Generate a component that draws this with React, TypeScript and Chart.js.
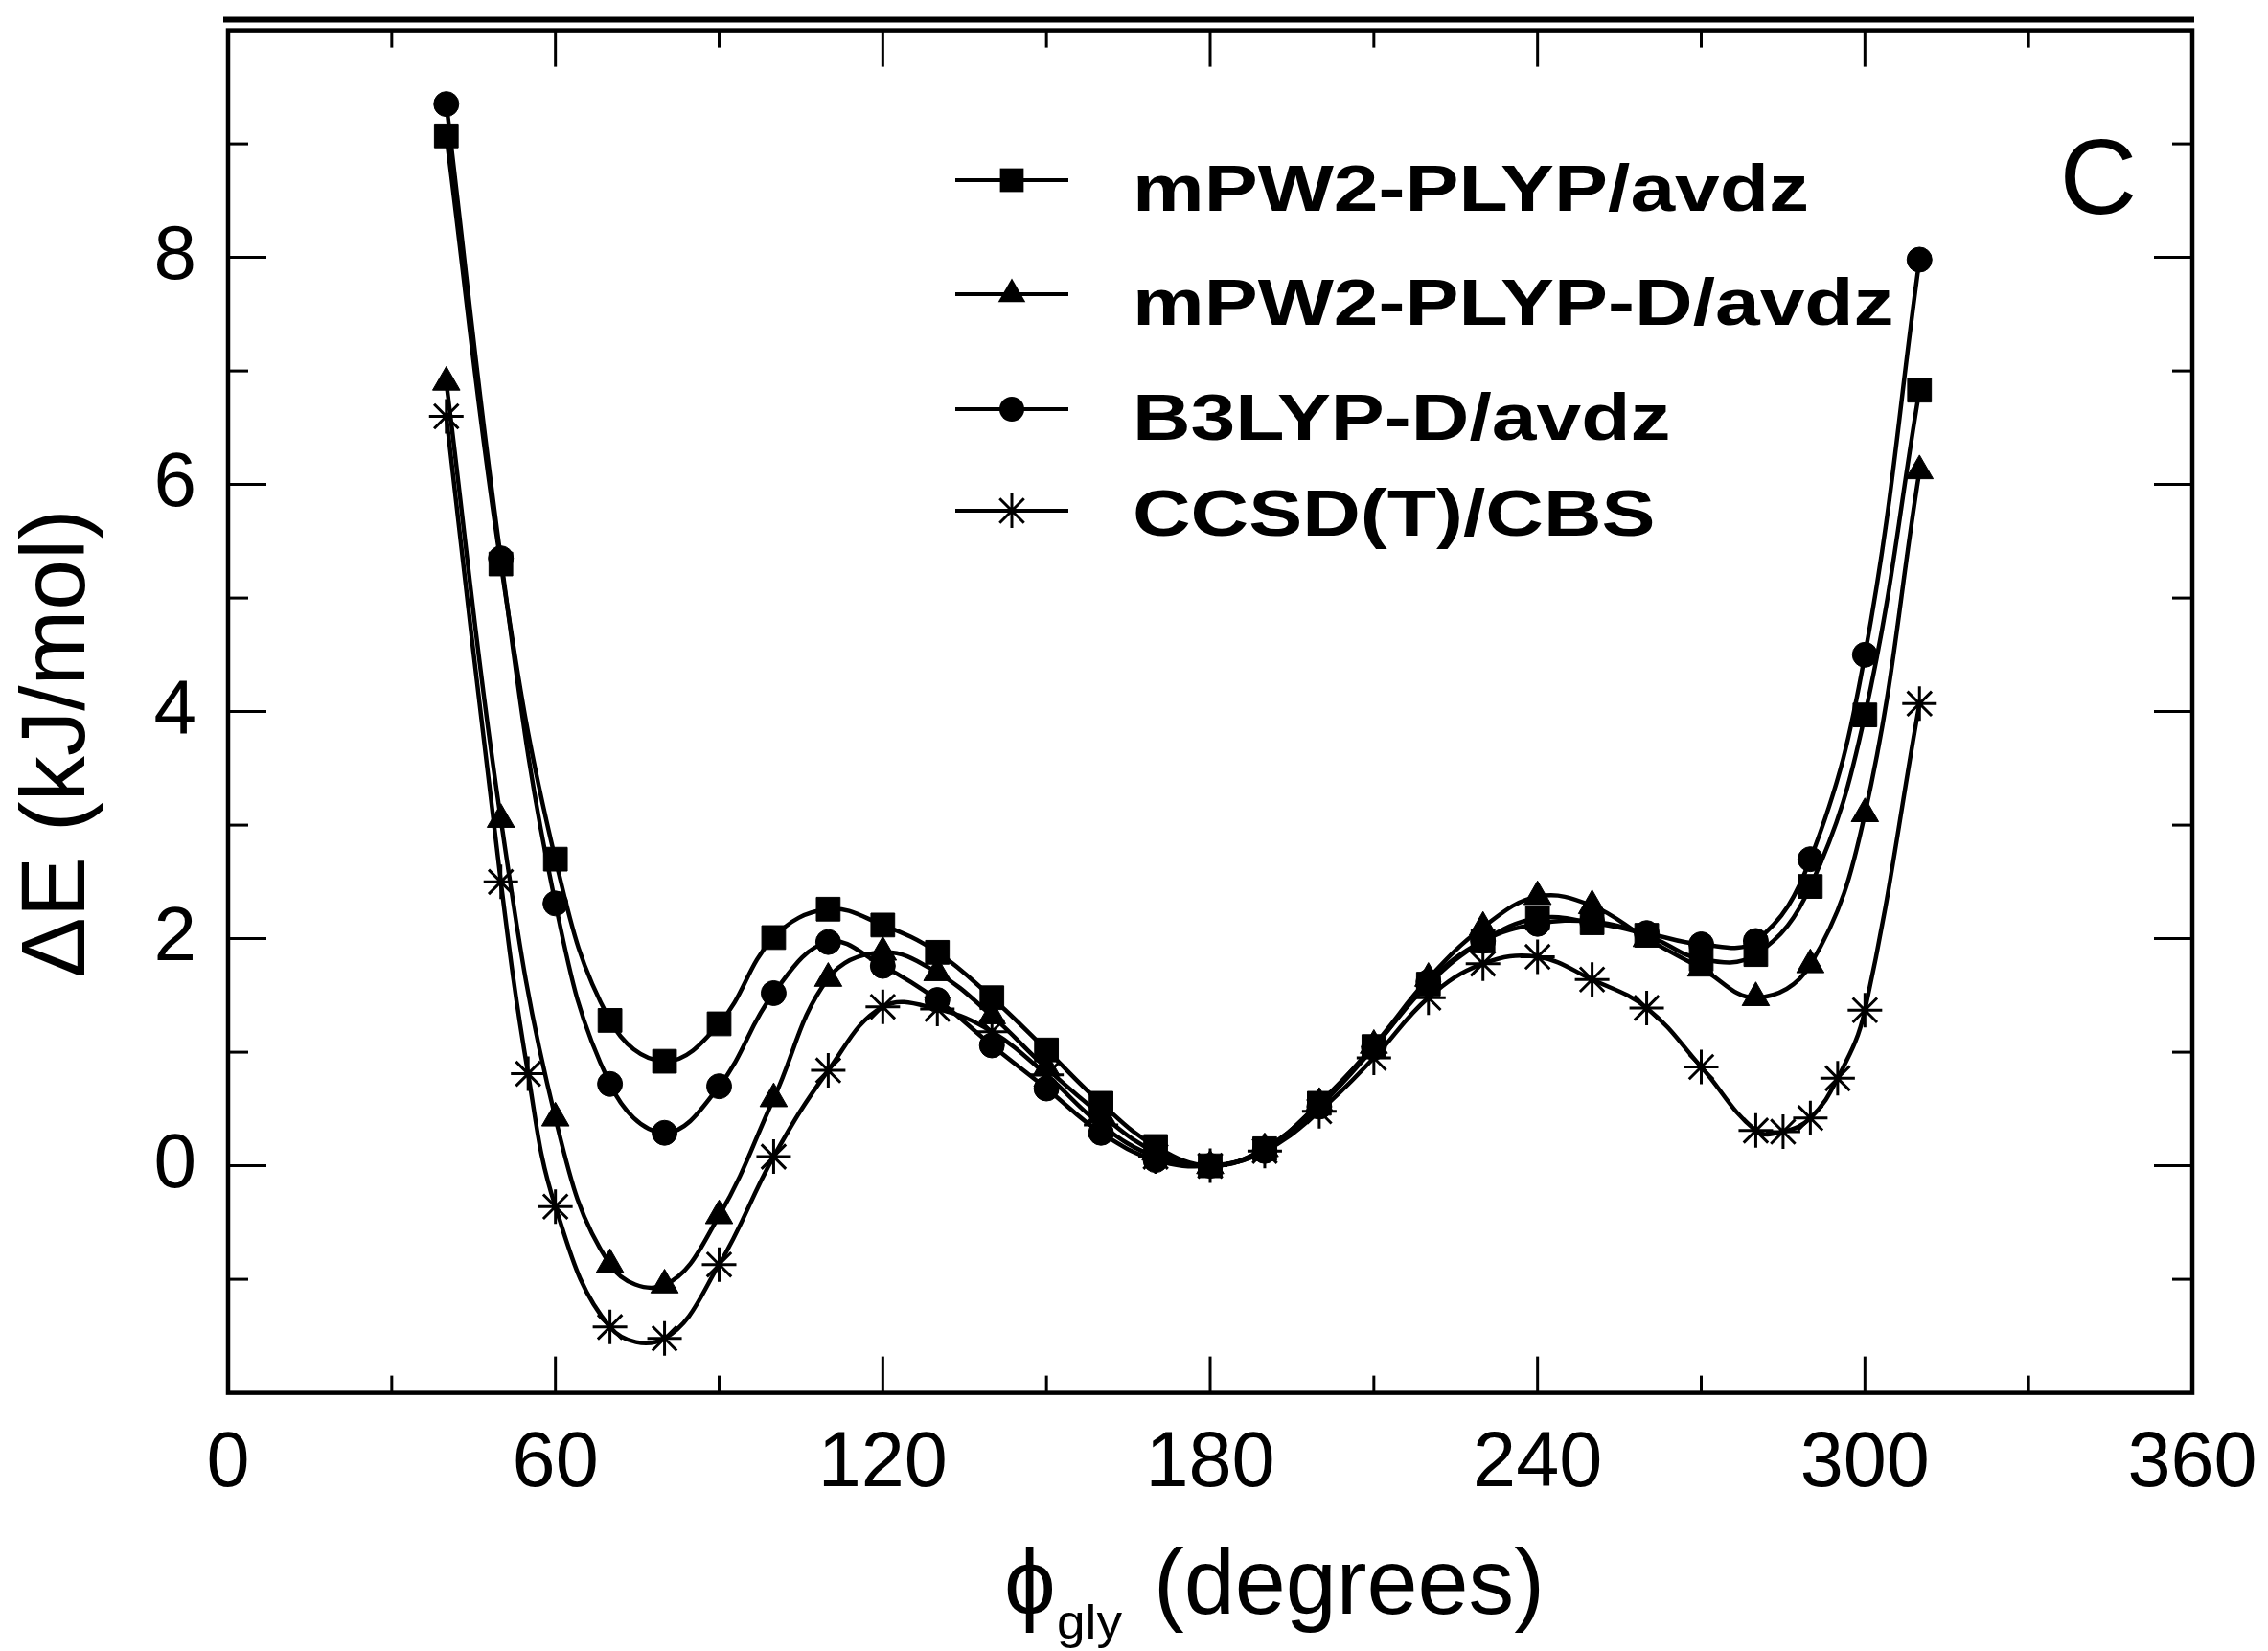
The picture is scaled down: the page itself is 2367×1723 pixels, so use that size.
import React, { useEffect, useRef } from 'react';
import { Chart, registerables } from 'chart.js';

Chart.register(...registerables);

// ---------------- data ----------------
const seriesLabels = ['mPW2-PLYP/avdz', 'mPW2-PLYP-D/avdz', 'B3LYP-D/avdz', 'CCSD(T)/CBS'];

const phiDFT = [40, 50, 60, 70, 80, 90, 100, 110, 120, 130, 140, 150, 160, 170, 180,
  190, 200, 210, 220, 230, 240, 250, 260, 270, 280, 290, 300, 310];

const mpw2 = [9.07, 5.30, 2.70, 1.28, 0.92, 1.25, 2.01, 2.26, 2.12, 1.88, 1.48, 1.02, 0.55, 0.17, 0.0,
  0.15, 0.55, 1.05, 1.60, 1.98, 2.18, 2.14, 2.03, 1.82, 1.86, 2.46, 3.97, 6.83];

const mpw2D = [6.90, 3.05, 0.42, -0.87, -1.05, -0.44, 0.59, 1.65, 1.88, 1.70, 1.32, 0.86, 0.45, 0.12, 0.0,
  0.15, 0.55, 1.06, 1.65, 2.10, 2.37, 2.29, 2.00, 1.74, 1.48, 1.77, 3.10, 6.12];

const b3lypD = [9.35, 5.35, 2.31, 0.72, 0.29, 0.70, 1.52, 1.97, 1.76, 1.46, 1.06, 0.68, 0.29, 0.05, 0.0,
  0.13, 0.52, 1.04, 1.62, 1.98, 2.13, 2.15, 2.05, 1.95, 1.98, 2.70, 4.50, 7.98];

const phiCC = [40, 50, 55, 60, 70, 80, 90, 100, 110, 120, 130, 140, 150, 160, 170, 180,
  190, 200, 210, 220, 230, 240, 250, 260, 270, 280, 285, 290, 295, 300, 310];

const ccsdT = [6.60, 2.50, 0.81, -0.36, -1.42, -1.52, -0.87, 0.08, 0.84, 1.40, 1.38, 1.18, 0.80, 0.36, 0.08, 0.0,
  0.13, 0.48, 0.95, 1.48, 1.78, 1.84, 1.64, 1.39, 0.87, 0.31, 0.30, 0.42, 0.77, 1.37, 4.07];

const xTickValues = [0, 60, 120, 180, 240, 300, 360];
const yTickValues = [0, 2, 4, 6, 8];
const xMinorStep = 30;
const yMinorStep = 1;

const xTitleMain = 'ϕ';
const xTitleSub = 'gly';
const xTitleRest = '(degrees)';
const yTitle = 'ΔE (kJ/mol)';
const panelLabel = 'C';

// ---------------- styles ----------------
const FONT = "'Liberation Sans', Arial, Helvetica, sans-serif";
const W = 2367;
const H = 1723;

type Marker = { style: string; radius: number; border: number };
const markers: Marker[] = [
  { style: 'rect', radius: 17.5, border: 1 },
  { style: 'triangle', radius: 16.5, border: 1 },
  { style: 'circle', radius: 13, border: 1 },
  { style: 'star', radius: 18, border: 3 },
];

function drawMarker(ctx: CanvasRenderingContext2D, m: Marker, x: number, y: number) {
  ctx.save();
  ctx.fillStyle = '#000';
  ctx.strokeStyle = '#000';
  ctx.lineWidth = m.border;
  const r = m.radius;
  ctx.beginPath();
  if (m.style === 'rect') {
    const s = Math.SQRT1_2 * r;
    ctx.rect(x - s, y - s, 2 * s, 2 * s);
    ctx.fill();
  } else if (m.style === 'triangle') {
    for (let i = 0; i < 3; i++) {
      const a = (i * 2 * Math.PI) / 3;
      const px = x + Math.sin(a) * r;
      const py = y - Math.cos(a) * r;
      if (i === 0) ctx.moveTo(px, py); else ctx.lineTo(px, py);
    }
    ctx.closePath();
    ctx.fill();
  } else if (m.style === 'circle') {
    ctx.arc(x, y, r, 0, Math.PI * 2);
    ctx.fill();
  } else {
    for (let i = 0; i < 4; i++) {
      const a = (i * Math.PI) / 4;
      ctx.moveTo(x - Math.cos(a) * r, y - Math.sin(a) * r);
      ctx.lineTo(x + Math.cos(a) * r, y + Math.sin(a) * r);
    }
    ctx.stroke();
  }
  ctx.restore();
}

function fitText(ctx: CanvasRenderingContext2D, text: string, x: number, y: number, targetWidth: number | null, sx?: number) {
  const w = ctx.measureText(text).width;
  const s = sx !== undefined ? sx : targetWidth ? targetWidth / w : 1;
  ctx.save();
  ctx.translate(x, y);
  ctx.scale(s, 1);
  ctx.fillText(text, 0, 0);
  ctx.restore();
  return s;
}

const decorPlugin = {
  id: 'decor',
  afterDraw(chart: any) {
    const ctx: CanvasRenderingContext2D = chart.ctx;
    const a = chart.chartArea;
    const xs = chart.scales.x;
    const ys = chart.scales.y;
    ctx.save();
    ctx.strokeStyle = '#000';
    ctx.fillStyle = '#000';
    ctx.lineCap = 'butt';

    const seg = (x1: number, y1: number, x2: number, y2: number) => {
      ctx.beginPath();
      ctx.moveTo(x1, y1);
      ctx.lineTo(x2, y2);
      ctx.stroke();
    };

    // inward tick marks on all four sides
    ctx.lineWidth = 3;
    for (let v = xs.min; v <= xs.max + 1e-9; v += xMinorStep) {
      const px = xs.getPixelForValue(v);
      const major = xTickValues.includes(v);
      const len = major ? 38 : 18;
      seg(px, a.bottom, px, a.bottom - len);
      seg(px, a.top, px, a.top + len);
    }
    for (let v = ys.min; v <= ys.max + 1e-9; v += yMinorStep) {
      const py = ys.getPixelForValue(v);
      const major = v % 2 === 0;
      const len = major ? 40 : 21;
      seg(a.left, py, a.left + len, py);
      seg(a.right, py, a.right - len, py);
    }

    // frame
    ctx.lineWidth = 4.5;
    ctx.strokeRect(a.left, a.top, a.right - a.left, a.bottom - a.top);
    // heavy line above the frame
    ctx.lineWidth = 6;
    seg(a.left - 5, a.top - 11, a.right + 2, a.top - 11);

    // legend
    const rowLineY = [188, 307, 427, 533];
    const rowBaseY = [220, 339, 459, 559];
    ctx.font = `bold 68px ${FONT}`;
    ctx.textBaseline = 'alphabetic';
    ctx.textAlign = 'left';
    let sx: number | undefined = undefined;
    chart.data.datasets.forEach((ds: any, i: number) => {
      ctx.lineWidth = 4;
      seg(997, rowLineY[i], 1115, rowLineY[i]);
      drawMarker(ctx, markers[i], 1056, rowLineY[i]);
      if (sx === undefined) sx = fitText(ctx, ds.label, 1182, rowBaseY[i], 706);
      else fitText(ctx, ds.label, 1182, rowBaseY[i], null, sx);
    });

    // panel letter
    ctx.font = `112px ${FONT}`;
    ctx.textAlign = 'center';
    ctx.textBaseline = 'middle';
    ctx.fillText(panelLabel, 2190, 192);

    // y axis title
    ctx.save();
    ctx.translate(62, 776);
    ctx.rotate(-Math.PI / 2);
    ctx.font = `95px ${FONT}`;
    ctx.textAlign = 'left';
    ctx.textBaseline = 'middle';
    const tw = ctx.measureText(yTitle).width;
    const ysx = 489 / tw;
    ctx.scale(ysx, 1);
    ctx.fillText(yTitle, -tw / 2, 0);
    ctx.restore();

    // x axis title
    ctx.textAlign = 'left';
    ctx.textBaseline = 'alphabetic';
    ctx.font = `96px ${FONT}`;
    ctx.fillText(xTitleMain, 1048, 1684);
    ctx.font = `50px ${FONT}`;
    fitText(ctx, xTitleSub, 1103, 1710, 68);
    ctx.font = `96px ${FONT}`;
    fitText(ctx, xTitleRest, 1204, 1684, 408);

    ctx.restore();
  },
};

function makeDataset(i: number, xsArr: number[], ysArr: number[]) {
  const m = markers[i];
  return {
    label: seriesLabels[i],
    data: xsArr.map((x, k) => ({ x, y: ysArr[k] })),
    borderColor: '#000',
    backgroundColor: '#000',
    borderWidth: 4.5,
    tension: 0.4,
    pointStyle: m.style,
    pointRadius: m.radius,
    pointHoverRadius: m.radius,
    pointBackgroundColor: '#000',
    pointBorderColor: '#000',
    pointBorderWidth: m.border,
    fill: false,
  };
}

export default function App() {
  const ref = useRef<HTMLCanvasElement>(null);

  useEffect(() => {
    if (!ref.current) return;
    const chart = new Chart(ref.current, {
      type: 'line',
      data: {
        datasets: [
          makeDataset(0, phiDFT, mpw2),
          makeDataset(1, phiDFT, mpw2D),
          makeDataset(2, phiDFT, b3lypD),
          makeDataset(3, phiCC, ccsdT),
        ] as any,
      },
      options: {
        responsive: false,
        maintainAspectRatio: false,
        devicePixelRatio: 1,
        animation: false,
        events: [],
        layout: { padding: { left: 0, top: 31.6, right: 79, bottom: 0 }, autoPadding: false } as any,
        plugins: {
          legend: { display: false },
          title: { display: false },
          tooltip: { enabled: false },
        },
        scales: {
          x: {
            type: 'linear',
            min: 0,
            max: 360,
            afterBuildTicks: (s: any) => { s.ticks = xTickValues.map((v) => ({ value: v })); },
            afterFit: (s: any) => {
              s.height = H - 1453.6;
              s.paddingLeft = 0;
              s.paddingRight = 0;
            },
            grid: { display: false, drawTicks: false },
            border: { display: false },
            ticks: {
              color: '#000',
              font: { family: FONT, size: 81 },
              padding: 26,
              maxRotation: 0,
              autoSkip: false,
            },
          },
          y: {
            type: 'linear',
            min: -2,
            max: 10,
            afterBuildTicks: (s: any) => { s.ticks = yTickValues.map((v) => ({ value: v })); },
            afterFit: (s: any) => {
              s.width = 238;
              s.paddingTop = 0;
              s.paddingBottom = 0;
            },
            grid: { display: false, drawTicks: false },
            border: { display: false },
            ticks: {
              color: '#000',
              font: { family: FONT, size: 80 },
              padding: 33,
              autoSkip: false,
            },
          },
        } as any,
      },
      plugins: [decorPlugin],
    });
    return () => chart.destroy();
  }, []);

  return (
    <div style={{ position: 'absolute', left: 0, top: 0, width: W, height: H, background: '#fff' }}>
      <canvas ref={ref} width={W} height={H} style={{ display: 'block', width: W, height: H }} />
    </div>
  );
}
